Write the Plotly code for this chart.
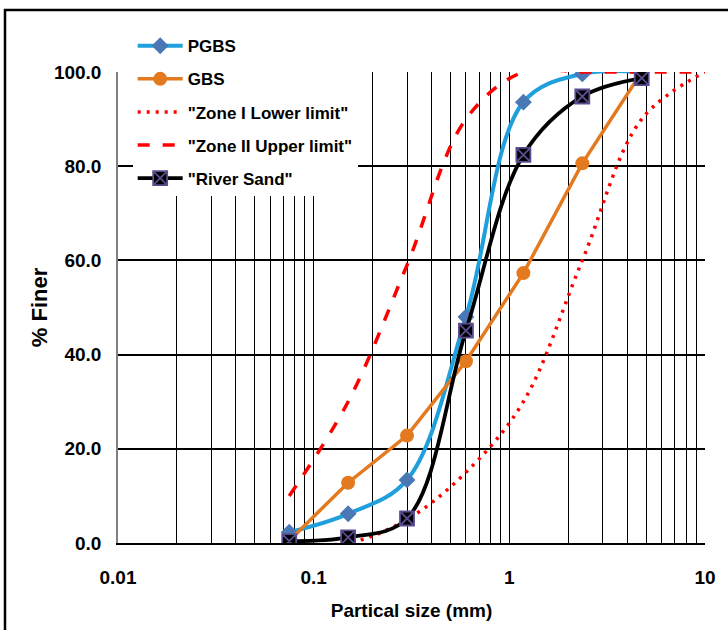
import plotly.graph_objects as go

# ---- data ----
sieve_sizes = [0.075, 0.15, 0.3, 0.6, 1.18, 2.36, 4.75]
pgbs = [2.3, 6.2, 13.4, 48.0, 93.6, 99.6, 100.0]
gbs = [0.5, 12.8, 22.8, 38.6, 57.3, 80.6, 100.0]
river_sand = [0.4, 1.2, 5.2, 45.1, 82.4, 94.8, 98.7]

zone1_sizes = [0.075, 0.15, 0.3, 0.6, 1.18, 2.36, 4.75, 10]
zone1_lower = [0, 0, 5, 15, 30, 60, 90, 100]

zone2_sizes = [0.075, 0.15, 0.3, 0.6, 1.18, 2.36, 4.75, 10]
zone2_upper = [10, 30, 59, 90, 100, 100, 100, 100]

x_tick_vals = [0.01, 0.1, 1, 10]
x_tick_text = ["0.01", "0.1", "1", "10"]
y_tick_vals = [0, 20, 40, 60, 80, 100]
y_tick_text = ["0.0", "20.0", "40.0", "60.0", "80.0", "100.0"]

# ---- styling ----
FONT = "Liberation Sans, Arial, sans-serif"

fig = go.Figure()

fig.add_trace(go.Scatter(
    x=sieve_sizes, y=pgbs, name="PGBS", mode="lines+markers",
    line=dict(color="#1f9fdc", width=4, shape="spline", smoothing=1),
    marker=dict(symbol="diamond", size=13, color="#4a78b5"),
    legendgroup="a"))
fig.add_trace(go.Scatter(
    x=sieve_sizes, y=gbs, name="GBS", mode="lines+markers",
    line=dict(color="#e37a1f", width=3.5),
    marker=dict(symbol="circle", size=14, color="#e37a1f"),
    legendgroup="b"))
fig.add_trace(go.Scatter(
    x=zone1_sizes, y=zone1_lower, name='"Zone I Lower limit"', mode="lines",
    line=dict(color="#ff0000", width=3.5, dash="3px,6px", shape="spline", smoothing=1),
    legendgroup="c"))
fig.add_trace(go.Scatter(
    x=zone2_sizes, y=zone2_upper, name='"Zone II Upper limit"', mode="lines",
    line=dict(color="#ff0000", width=3.5, dash="12px,13px", shape="spline", smoothing=1),
    legendgroup="d"))
fig.add_trace(go.Scatter(
    x=sieve_sizes, y=river_sand, name='"River Sand"', mode="lines+markers",
    line=dict(color="#000000", width=3.8, shape="spline", smoothing=1),
    marker=dict(symbol="square-x", size=14, color="#000000",
                line=dict(color="#5b4c8f", width=1.8)),
    legendgroup="e"))

minor_x = []
for dec in [0.01, 0.1, 1]:
    for k in range(2, 10):
        minor_x.append(round(dec * k, 6))
minor_x += [0.1000001, 1.000001]

fig.update_layout(
    width=728, height=630,
    margin=dict(l=118, r=23, t=72, b=87, autoexpand=False),
    paper_bgcolor="white", plot_bgcolor="white",
    showlegend=True, hovermode=False,
    legend=dict(
        x=0.025, y=1.093, xanchor="left", yanchor="top",
        bgcolor="white", borderwidth=0,
        font=dict(family=FONT, size=17, color="black", weight="bold"),
        tracegroupgap=8, itemwidth=45,
    ),
    xaxis=dict(
        type="log", range=[-2, 1], automargin=False,
        tickmode="array", tickvals=x_tick_vals, ticktext=x_tick_text,
        showgrid=False, zeroline=False,
        showline=True, linecolor="black", linewidth=2,
        ticks="", ticklabelstandoff=16,
        tickfont=dict(family=FONT, size=19, color="black", weight="bold"),
        minor=dict(tickmode="array", tickvals=minor_x, showgrid=True,
                   gridcolor="black", gridwidth=1.3, ticks=""),
        title=dict(text="Partical size (mm)", standoff=17,
                   font=dict(family=FONT, size=19, color="black", weight="bold")),
    ),
    yaxis=dict(
        range=[0, 100], automargin=False,
        tickmode="array", tickvals=y_tick_vals, ticktext=y_tick_text,
        showgrid=False, zeroline=False,
        showline=True, linecolor="#808080", linewidth=1.5,
        ticks="", ticklabelstandoff=11,
        tickfont=dict(family=FONT, size=19, color="black", weight="bold"),
        minor=dict(tickmode="array", tickvals=[20, 40, 60, 80], showgrid=True,
                   gridcolor="black", gridwidth=1.5, ticks=""),
        title=dict(text="% Finer", standoff=0,
                   font=dict(family=FONT, size=22, color="black", weight="bold")),
    ),
)

fig.add_shape(type="rect", xref="paper", yref="paper",
              x0=(5 - 118) / 587, x1=1.2, y0=-0.3, y1=(543 - 10) / 471,
              line=dict(color="black", width=2.5), fillcolor="rgba(0,0,0,0)",
              layer="above")

fig.write_html("out.html", config={"displayModeBar": False},
               post_script="document.body.style.margin='0px';")
